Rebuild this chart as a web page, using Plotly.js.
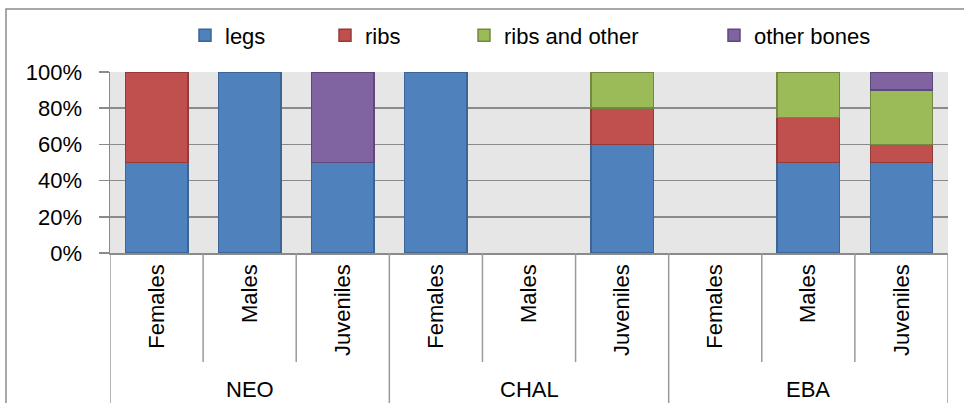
<!DOCTYPE html>
<html>
<head>
<meta charset="utf-8">
<script src="https://cdn.plot.ly/plotly-3.0.1.min.js"></script>
<style>html,body{margin:0;padding:0;background:#fff;}#chart{width:964px;height:403px;}</style>
</head>
<body>
<div id="chart"></div>
<script>
// ---- data ----
const groups = ["NEO", "CHAL", "EBA"];
const subgroups = ["Females", "Males", "Juveniles"];
const legs        = [50, 100, 50,   100, null, 60,   null, 50, 50];
const ribs        = [50, null, null, null, null, 20,  null, 25, 10];
const ribsOther   = [null, null, null, null, null, 20, null, 25, 30];
const otherBones  = [null, null, 50,  null, null, null, null, null, 10];
const seriesNames = ["legs", "ribs", "ribs and other", "other bones"];
const yTicks = [0, 20, 40, 60, 80, 100];

// ---- styling ----
const fills = ["#4f81bd", "#c0504d", "#9bbb59", "#8064a2"];
const edges = ["#3a6595", "#943b39", "#73893f", "#5e4a7a"];
const legendX = [185, 325, 464, 714];   // px, container
const FONT = "Liberation Sans, Arial, sans-serif";
const FS = 22;
const gridCol = "#8a8a8a";

const xPos = [];
const xLab = [];
groups.forEach((g, gi) => subgroups.forEach((s, si) => { xPos.push(gi * subgroups.length + si); xLab.push(s); }));

const seriesVals = [legs, ribs, ribsOther, otherBones];
const traces = seriesVals.map((vals, i) => ({
  type: "bar",
  name: seriesNames[i],
  x: xPos,
  y: vals,
  marker: { color: fills[i], line: { color: edges[i], width: 1.5 } },
  legend: i === 0 ? "legend" : "legend" + (i + 1),
  hoverinfo: "skip"
}));

// plot geometry (px) for paper conversions
const W = 964, H = 403, L = 110, R = 16, T = 72, B = 150;
const pw = W - L - R, ph = H - T - B;
const py = v => (H - B - v) / ph;     // pixel y -> paper y
const px = v => (v - L) / pw;         // pixel x -> paper x

const shapes = [];
const n = xPos.length, k = subgroups.length;
for (let b = 0; b <= n; b++) {
  const outer = (b % k === 0);
  shapes.push({
    type: "line", xref: "x", yref: "paper",
    x0: b - 0.5, x1: b - 0.5,
    y0: 0, y1: outer ? py(404) : py(362),
    line: { color: "#9a9a9a", width: 1.5 }
  });
}
// outer chart border
shapes.push({
  type: "rect", xref: "paper", yref: "paper",
  x0: px(6), x1: px(970), y0: py(420), y1: py(9),
  line: { color: "#8c8c8c", width: 1.5 }, fillcolor: "rgba(0,0,0,0)"
});

const annotations = groups.map((g, gi) => ({
  text: g, xref: "x", yref: "paper",
  x: gi * k + (k - 1) / 2, y: py(389),
  showarrow: false, xanchor: "center", yanchor: "middle",
  font: { family: FONT, size: FS, color: "#000" }
}));

const layout = {
  width: W, height: H,
  margin: { l: L, r: R, t: T, b: B },
  paper_bgcolor: "#ffffff",
  plot_bgcolor: "#e6e6e6",
  barmode: "stack",
  bargap: 0.33,
  font: { family: FONT, size: FS, color: "#000" },
  xaxis: {
    range: [-0.5, n - 0.5],
    tickmode: "array", tickvals: xPos, ticktext: xLab,
    tickangle: -90, ticks: "",
    showgrid: false, zeroline: false,
    showline: true, linecolor: gridCol, linewidth: 1.5,
    ticklabelstandoff: 1,
    tickfont: { family: FONT, size: FS, color: "#000" },
    fixedrange: true
  },
  yaxis: {
    range: [0, 100],
    tickmode: "array", tickvals: yTicks, ticktext: yTicks.map(v => v + "%"),
    ticks: "outside", ticklen: 10, tickwidth: 1.5, tickcolor: gridCol,
    showgrid: true, gridcolor: gridCol, gridwidth: 1.5,
    zeroline: false,
    showline: true, linecolor: gridCol, linewidth: 1.5,
    ticklabelstandoff: 12,
    tickfont: { family: FONT, size: FS, color: "#000" },
    fixedrange: true
  },
  shapes: shapes,
  annotations: annotations,
  showlegend: true
};
legendX.forEach((lx, i) => {
  const key = i === 0 ? "legend" : "legend" + (i + 1);
  layout[key] = {
    xref: "container", yref: "container",
    x: lx / W, y: 1 - 35.5 / H,
    xanchor: "left", yanchor: "middle",
    orientation: "h",
    bgcolor: "rgba(0,0,0,0)",
    borderwidth: 0,
    itemwidth: 30,
    font: { family: FONT, size: FS, color: "#000" }
  };
});

Plotly.newPlot("chart", traces, layout, { staticPlot: true, displayModeBar: false });
</script>
</body>
</html>
